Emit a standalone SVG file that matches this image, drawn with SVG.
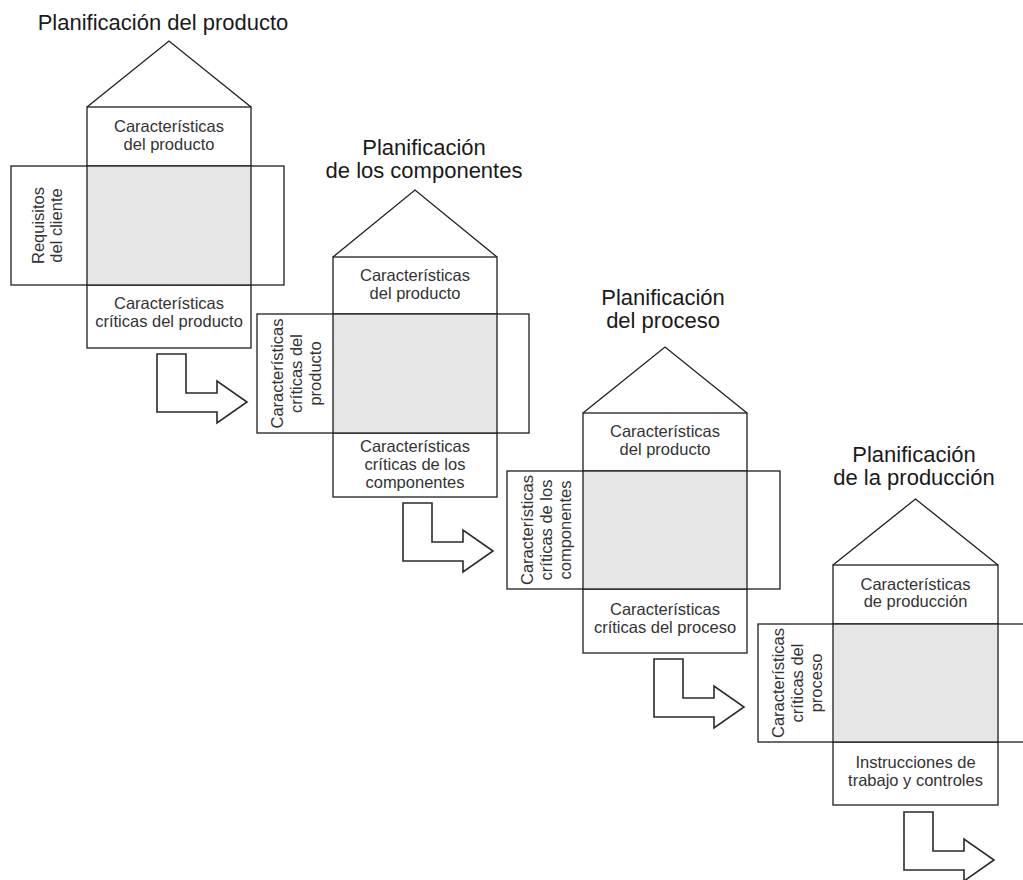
<svg xmlns="http://www.w3.org/2000/svg" width="1023" height="880" viewBox="0 0 1023 880">
  <style>
    .ln { fill: none; stroke: #1e1e1e; stroke-width: 1.3; }
    .wh { fill: #ffffff; stroke: #1e1e1e; stroke-width: 1.3; }
    .gr { fill: #e6e6e6; stroke: #1e1e1e; stroke-width: 1.3; }
    .ttl { font-family: "Liberation Sans", Arial, sans-serif; font-size: 22px; fill: #1a1a1a; text-anchor: middle; }
    .lbl { font-family: "Liberation Sans", Arial, sans-serif; font-size: 16.5px; fill: #333333; text-anchor: middle; }
    .arw { fill: #ffffff; stroke: #2a2a2a; stroke-width: 1.6; stroke-linejoin: miter; }
  </style>
  <defs>
    <path id="stepArrow" d="M0,0 H29 V39 H60 V27 L90,48 L60,69 V58 H0 Z"/>
  </defs>
  <rect width="1023" height="880" fill="#ffffff"/>

  <!-- House 1: product planning -->
  <g id="house-producto">
    <text class="ttl" x="163" y="30">Planificación del producto</text>
    <polyline class="ln" points="87,107 169,41 251,107"/>
    <rect class="wh" x="87" y="107" width="164" height="241"/>
    <rect class="wh" x="11" y="166" width="273" height="119"/>
    <rect class="gr" x="87" y="166" width="164" height="119"/>
    <text class="lbl" x="169" y="132">Características<tspan x="169" dy="18">del producto</tspan></text>
    <text class="lbl" x="169" y="309">Características<tspan x="169" dy="18">críticas del producto</tspan></text>
    <text class="lbl" transform="translate(43.5,225.5) rotate(-90)">Requisitos<tspan x="0" dy="18">del cliente</tspan></text>
  </g>

  <!-- House 2: component planning -->
  <g id="house-componentes">
    <text class="ttl" x="424" y="155">Planificación<tspan x="424" dy="23">de los componentes</tspan></text>
    <polyline class="ln" points="333,257 415,190 497,257"/>
    <rect class="wh" x="333" y="257" width="164" height="240"/>
    <rect class="wh" x="257" y="314" width="272" height="119"/>
    <rect class="gr" x="333" y="314" width="164" height="119"/>
    <text class="lbl" x="415" y="281">Características<tspan x="415" dy="18">del producto</tspan></text>
    <text class="lbl" x="415" y="451.5">Características<tspan x="415" dy="18">críticas de los</tspan><tspan x="415" dy="18">componentes</tspan></text>
    <text class="lbl" transform="translate(283,373.5) rotate(-90)">Características<tspan x="0" dy="19">críticas del</tspan><tspan x="0" dy="19">producto</tspan></text>
  </g>

  <!-- House 3: process planning -->
  <g id="house-proceso">
    <text class="ttl" x="663" y="305">Planificación<tspan x="663" dy="23">del proceso</tspan></text>
    <polyline class="ln" points="583,413 665,347 747,413"/>
    <rect class="wh" x="583" y="413" width="164" height="240"/>
    <rect class="wh" x="507" y="471" width="273" height="118"/>
    <rect class="gr" x="583" y="471" width="164" height="118"/>
    <text class="lbl" x="665" y="437">Características<tspan x="665" dy="18">del producto</tspan></text>
    <text class="lbl" x="665" y="615">Características<tspan x="665" dy="18">críticas del proceso</tspan></text>
    <text class="lbl" transform="translate(533,530) rotate(-90)">Características<tspan x="0" dy="19">críticas de los</tspan><tspan x="0" dy="19">componentes</tspan></text>
  </g>

  <!-- House 4: production planning -->
  <g id="house-produccion">
    <text class="ttl" x="914" y="462">Planificación<tspan x="914" dy="23">de la producción</tspan></text>
    <polyline class="ln" points="833,565 915.5,499 998,565"/>
    <rect class="wh" x="833" y="565" width="165" height="240"/>
    <rect class="wh" x="758" y="624" width="280" height="118"/>
    <rect class="gr" x="833" y="624" width="165" height="118"/>
    <text class="lbl" x="915.5" y="590">Características<tspan x="915.5" dy="17">de producción</tspan></text>
    <text class="lbl" x="915.5" y="768">Instrucciones de<tspan x="915.5" dy="17.5">trabajo y controles</tspan></text>
    <text class="lbl" transform="translate(784,683) rotate(-90)">Características<tspan x="0" dy="19">críticas del</tspan><tspan x="0" dy="19">proceso</tspan></text>
  </g>

  <!-- Step arrows between houses -->
  <g id="connectors">
    <use href="#stepArrow" class="arw" x="157" y="354"/>
    <use href="#stepArrow" class="arw" x="403" y="503"/>
    <use href="#stepArrow" class="arw" x="654" y="659"/>
    <use href="#stepArrow" class="arw" x="904" y="812"/>
  </g>
</svg>
